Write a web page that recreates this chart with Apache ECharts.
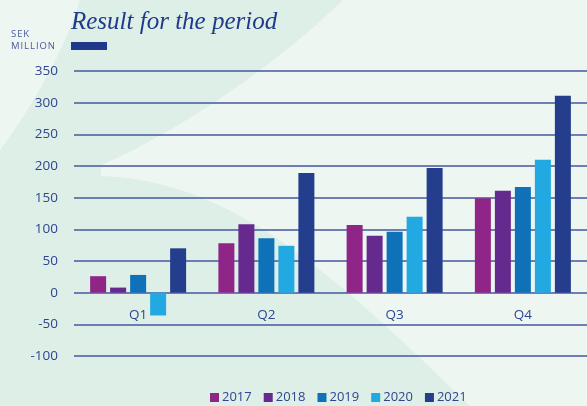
<!DOCTYPE html>
<html>
<head>
<meta charset="utf-8">
<script src="https://cdn.jsdelivr.net/npm/echarts@6/dist/echarts.min.js"></script>
<style>
  html, body { margin: 0; padding: 0; }
  #chart { width: 587px; height: 406px; }
</style>
</head>
<body>
<div id="chart"></div>
<script>
// 数据
var quarters = ['Q1', 'Q2', 'Q3', 'Q4'];
var years = ['2017', '2018', '2019', '2020', '2021'];
var v2017 = [26, 78, 107, 149];
var v2018 = [8, 108, 90, 161];
var v2019 = [28, 86, 96, 167];
var v2020 = [-36, 74, 120, 210];
var v2021 = [70, 189, 197, 311];
var yearColors = ['#8e2587', '#662a8e', '#0f72b9', '#22a9e1', '#243d8c'];

var txtColor = '#2f4590';
var lineColor = '#4457a0';
var chart = echarts.init(document.getElementById('chart'));

// 背景的曲线 (cubic bezier -> points)
function cubic(p0, p1, p2, p3, n) {
  var pts = [];
  for (var i = 0; i <= n; i++) {
    var t = i / n, u = 1 - t;
    pts.push([
      u * u * u * p0[0] + 3 * u * u * t * p1[0] + 3 * u * t * t * p2[0] + t * t * t * p3[0],
      u * u * u * p0[1] + 3 * u * u * t * p1[1] + 3 * u * t * t * p2[1] + t * t * t * p3[1]
    ]);
  }
  return pts;
}
var bgShape = [].concat(
  [[80, 0], [343, 0]],
  cubic([343, 0], [260, 80], [160, 140], [101, 165], 30),
  cubic([101, 176], [230, 180], [330, 270], [470, 406], 40),
  [[0, 406], [0, 150]],
  cubic([0, 150], [30, 110], [65, 50], [80, 0], 20)
);

var allValues = [v2017, v2018, v2019, v2020, v2021];
var series = years.map(function (y, i) {
  return {
    name: y,
    type: 'bar',
    data: allValues[i],
    barWidth: 16,
    barGap: '25%',
    itemStyle: { color: yearColors[i] }
  };
});

var hs = '\u200A';
chart.setOption({
  backgroundColor: '#eef6f2',
  animation: false,
  color: yearColors,
  graphic: [
    {
      type: 'polygon',
      z: -10,
      silent: true,
      shape: { points: bgShape },
      style: { fill: '#ddefe6' }
    },
    {
      type: 'text',
      left: 71, top: 10,
      style: {
        text: 'Result for the period',
        fill: '#1f3a8a',
        font: 'italic 25px "Liberation Serif"'
      }
    },
    {
      type: 'text',
      right: 532, top: 28,
      style: {
        text: 'SEK'.split('').join(hs) + '\n' + 'MILLION'.split('').join(hs),
        fill: '#4a5a9a',
        align: 'right',
        lineHeight: 12.5,
        font: '9.5px "Open Sans"'
      }
    },
    {
      type: 'rect',
      shape: { x: 71, y: 42, width: 36, height: 8 },
      style: { fill: '#1f3a8a' }
    }
  ],
  grid: { left: 74, right: 0, top: 71, bottom: 50, containLabel: false },
  legend: {
    data: years,
    left: 210,
    top: 391,
    padding: 0,
    itemWidth: 9,
    itemHeight: 9,
    itemGap: 12,
    icon: 'rect',
    textStyle: { color: txtColor, fontSize: 13, fontFamily: 'Open Sans', padding: [0, 0, 0, -2] }
  },
  xAxis: {
    type: 'category',
    data: quarters,
    offset: -63,
    axisLine: { show: false },
    axisTick: { show: false },
    axisLabel: { color: txtColor, fontSize: 13.5, fontFamily: 'Open Sans', margin: 15 }
  },
  yAxis: {
    type: 'value',
    min: -100,
    max: 350,
    interval: 50,
    axisLine: { show: false },
    axisTick: { show: false },
    axisLabel: { color: txtColor, fontSize: 13.5, fontFamily: 'Open Sans', margin: 16 },
    splitLine: { lineStyle: { color: lineColor, width: 1.5 } }
  },
  series: series
});
</script>
</body>
</html>
